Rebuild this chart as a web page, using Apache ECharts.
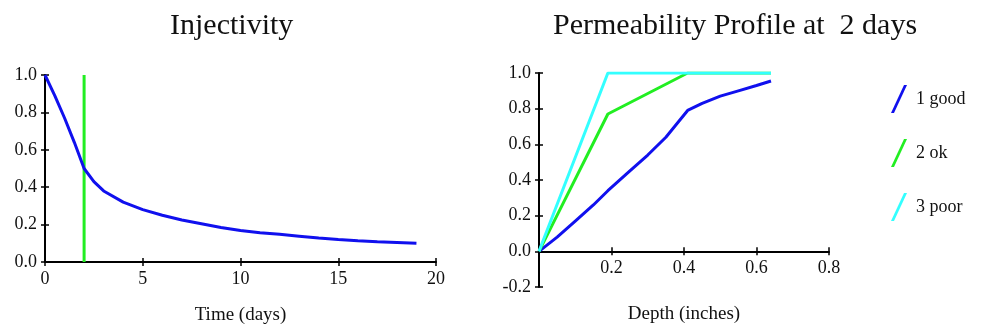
<!DOCTYPE html>
<html lang="en">

<head>
    <meta charset="UTF-8">
    <title>Injectivity / Permeability</title>
    <style>
        body { margin: 0; background: #fff; }
    </style>
</head>

<body>
    <div id="main" style="width: 984px; height: 328px;"></div>

    <script src="https://cdn.jsdelivr.net/npm/echarts@6/dist/echarts.min.js"></script>
    <script>
        // left chart: injectivity vs time
        var timeDays = [0, 0.5, 1, 1.5, 2, 2.5, 3, 4, 5, 6, 7, 8, 9, 10, 11, 12, 13, 14, 15, 16, 17, 18, 19]
        var injectivity = [1.0, 0.89, 0.77, 0.64, 0.50, 0.43, 0.38, 0.32, 0.28, 0.25, 0.225, 0.205, 0.185, 0.168, 0.157, 0.148, 0.138, 0.128, 0.12, 0.113, 0.108, 0.104, 0.10]
        var markerTime = [2, 2]
        var markerValue = [0, 1]

        // right chart: permeability profile at 2 days
        var depthGood = [0, 0.05, 0.1, 0.15, 0.19, 0.25, 0.3, 0.35, 0.41, 0.45, 0.5, 0.55, 0.6, 0.64]
        var permGood = [0, 0.08, 0.17, 0.26, 0.34, 0.45, 0.54, 0.64, 0.79, 0.83, 0.87, 0.9, 0.93, 0.955]
        var depthOk = [0, 0.19, 0.41, 0.64]
        var permOk = [0, 0.77, 1.0, 1.0]
        var depthPoor = [0, 0.19, 0.64]
        var permPoor = [0, 1.0, 1.0]
        var legendNames = ['1 good', '2 ok', '3 poor']

        function pairs(xs, ys) {
            return xs.map(function (x, i) { return [x, ys[i]] })
        }

        var font = 'Liberation Serif'
        var ink = '#111'
        var slash = 'path://M0,28 L13,0 L16,0 L3,28 Z'

        function valueAxis(gridIndex, pos, min, max, step, fmt, extra) {
            var ax = {
                type: 'value', gridIndex: gridIndex, position: pos, min: min, max: max, interval: step,
                splitLine: { show: false },
                axisLine: { show: true, onZero: false, lineStyle: { color: '#000', width: 2 } },
                axisTick: { show: true, length: 4, lineStyle: { color: '#000', width: 1.5 } },
                axisLabel: { color: ink, fontFamily: font, fontSize: 18, margin: 8, formatter: fmt }
            }
            return Object.assign(ax, extra || {})
        }
        // second copy of an axis, only used to draw the inner half of the ticks
        function innerTicks(ax) {
            var c = JSON.parse(JSON.stringify(ax))
            c.axisLine = { show: false, onZero: false }
            c.axisLabel = { show: false }
            c.axisTick.inside = true
            delete c.name
            return c
        }

        var fmt1 = function (v) { return v.toFixed(1) }

        // right grid: 214px tall for 1.2 units, the x axis sits on y = 0
        var rightH = 214
        var zeroShift = -rightH * 0.2 / 1.2

        var x0 = valueAxis(0, 'bottom', 0, 20, 5, function (v) { return String(v) }, {
            name: 'Time (days)', nameLocation: 'middle', nameGap: 44,
            nameTextStyle: { color: ink, fontFamily: font, fontSize: 19 }
        })
        var y0 = valueAxis(0, 'left', 0, 1, 0.2, fmt1)
        var x1 = valueAxis(1, 'bottom', 0, 0.8, 0.2, function (v) { return v === 0 ? '' : v.toFixed(1) }, {
            offset: zeroShift,
            name: 'Depth (inches)', nameLocation: 'middle', nameGap: 53,
            nameTextStyle: { color: ink, fontFamily: font, fontSize: 19 }
        })
        var y1 = valueAxis(1, 'left', -0.2, 1, 0.2, fmt1)

        var myChart = echarts.init(document.getElementById('main'))
        var option = {
            backgroundColor: '#fff',
            animation: false,
            title: [
                { text: 'Injectivity', left: 165, top: 6, textStyle: { fontFamily: font, fontSize: 30, fontWeight: 'normal', color: ink } },
                { text: 'Permeability Profile at  2 days', left: 548, top: 6, textStyle: { fontFamily: font, fontSize: 30, fontWeight: 'normal', color: ink } }
            ],
            legend: {
                data: legendNames,
                orient: 'vertical',
                left: 886, top: 80,
                itemWidth: 16, itemHeight: 28, itemGap: 26,
                icon: slash,
                textStyle: { color: ink, fontFamily: font, fontSize: 18, padding: [0, 0, 0, 4] }
            },
            grid: [
                { left: 45, top: 75, width: 391, height: 187, outerBoundsMode: 'none' },
                { left: 539, top: 73, width: 290, height: rightH, outerBoundsMode: 'none' }
            ],
            xAxis: [x0, x1, innerTicks(x0), innerTicks(x1)],
            yAxis: [y0, y1, innerTicks(y0), innerTicks(y1)],
            series: [
                {
                    type: 'line', xAxisIndex: 0, yAxisIndex: 0, data: pairs(markerTime, markerValue),
                    showSymbol: false, lineStyle: { color: '#22ee22', width: 3 }, z: 2
                },
                {
                    type: 'line', xAxisIndex: 0, yAxisIndex: 0, data: pairs(timeDays, injectivity),
                    showSymbol: false, lineStyle: { color: '#1010ee', width: 3 }, z: 3
                },
                {
                    name: legendNames[0], type: 'line', xAxisIndex: 1, yAxisIndex: 1, data: pairs(depthGood, permGood),
                    showSymbol: false, color: '#1010ee', lineStyle: { width: 3 }
                },
                {
                    name: legendNames[1], type: 'line', xAxisIndex: 1, yAxisIndex: 1, data: pairs(depthOk, permOk),
                    showSymbol: false, color: '#22ee22', lineStyle: { width: 3 }
                },
                {
                    name: legendNames[2], type: 'line', xAxisIndex: 1, yAxisIndex: 1, data: pairs(depthPoor, permPoor),
                    showSymbol: false, color: '#33ffff', lineStyle: { width: 3 }
                }
            ]
        }
        myChart.setOption(option)
    </script>
</body>

</html>
